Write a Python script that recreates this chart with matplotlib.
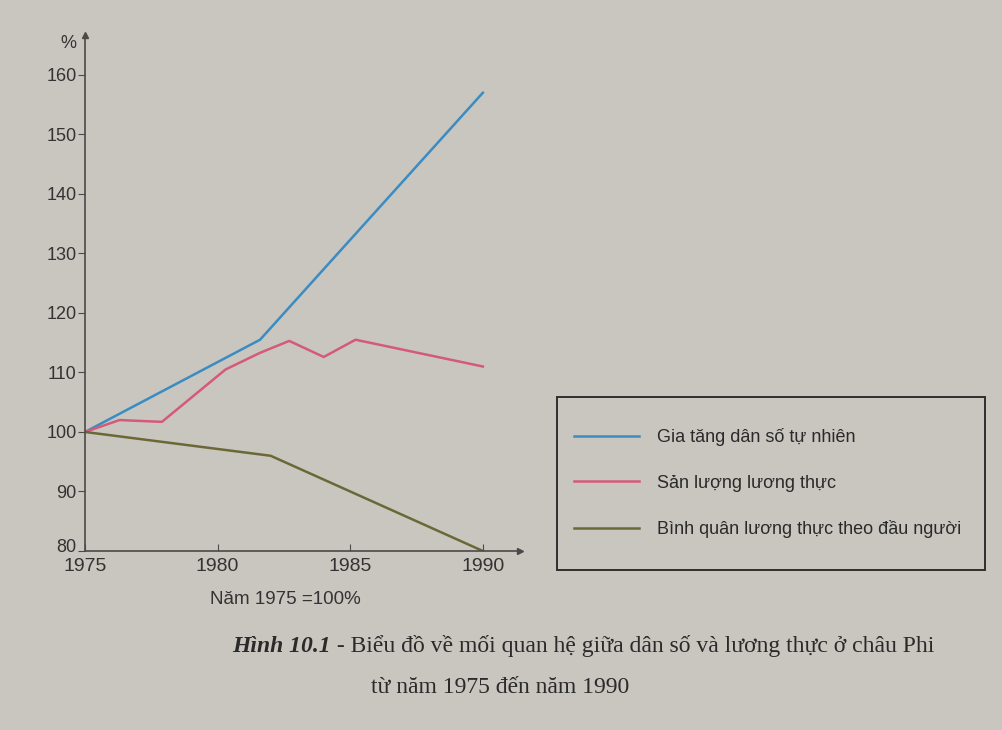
import matplotlib.pyplot as plt
import matplotlib.transforms as mtransforms
from matplotlib.patches import Rectangle

# Values (1975 = 100%)
pop_years = [1975, 1981.6, 1990]
pop_values = [100, 115.5, 157]

food_years = [1975, 1976.3, 1977.9, 1980.3, 1981.6, 1982.7, 1984.0, 1985.2, 1990]
food_values = [100, 102, 101.7, 110.5, 113.3, 115.3, 112.6, 115.5, 111]

percap_years = [1975, 1982, 1990]
percap_values = [100, 96, 80]

x_ticks = [1975, 1980, 1985, 1990]
y_ticks = [80, 90, 100, 110, 120, 130, 140, 150, 160]

labels = ['Gia tăng dân số tự nhiên', 'Sản lượng lương thực',
          'Bình quân lương thực theo đầu người']
colors = ['#3a8cc2', '#d45a7a', '#6b6838']

BG = '#c9c6c0'
INK = '#4a4a48'

W, H = 1003, 730
fig = plt.figure(figsize=(W / 100, H / 100), dpi=100, facecolor=BG)

def fx(px):
    return px / W

def fy(py):
    return 1 - py / H

ax = fig.add_axes([fx(85), fy(551), fx(520) - fx(85), fy(35) - fy(551)])
ax.set_facecolor(BG)

l1, = ax.plot(pop_years, pop_values, color=colors[0], lw=1.8)
l2, = ax.plot(food_years, food_values, color=colors[1], lw=1.8)
l3, = ax.plot(percap_years, percap_values, color=colors[2], lw=1.8)

ax.set_xlim(1975, 1991.4)
ax.set_ylim(80, 166.7)
ax.set_xticks(x_ticks)
ax.set_yticks(y_ticks)
for s in ['top', 'right']:
    ax.spines[s].set_visible(False)
for s in ['left', 'bottom']:
    ax.spines[s].set_color(INK)
    ax.spines[s].set_linewidth(1.2)
ax.tick_params(axis='y', direction='out', length=5, color=INK, labelcolor='#333333',
               labelsize=13, pad=1)
ax.tick_params(axis='x', direction='in', length=5, color=INK, labelcolor='#333333',
               labelsize=14, pad=5)
for t in ax.get_xticklabels() + ax.get_yticklabels():
    t.set_family('Liberation Sans')
# "80" sits on the corner, nudged up a little so it clears "1975"
lab80 = ax.get_yticklabels()[0]
lab80.set_transform(lab80.get_transform()
                    + mtransforms.ScaledTranslation(0, 4 / 72, fig.dpi_scale_trans))

# arrow heads at axis ends
ax.plot([0], [1], marker='^', ms=5, color=INK, transform=ax.transAxes, clip_on=False)
ax.plot([1], [0], marker='>', ms=5, color=INK, transform=ax.transAxes, clip_on=False)

fig.text(fx(68), fy(43), '%', fontsize=13, color='#333333', family='Liberation Sans',
         ha='center', va='center')
fig.text(fx(285), fy(599), 'Năm 1975 =100%', fontsize=13.5, color='#333333',
         family='Liberation Sans', ha='center', va='center')

# legend box
fig.patches.append(Rectangle((fx(557), fy(570)), fx(985) - fx(557), fy(397) - fy(570),
                             transform=fig.transFigure, fill=False, edgecolor='#2e2e2c',
                             lw=1.4))
fig.legend([l1, l2, l3], labels, loc='upper left',
           bbox_to_anchor=(fx(574), fy(428)), frameon=False, borderpad=0,
           borderaxespad=0, handlelength=3.6, handletextpad=1.0, labelspacing=1.58,
           prop={'family': 'Liberation Sans', 'size': 13}, labelcolor='#2a2a2a')

# caption
cap = fig.text(fx(232), fy(652), 'Hình 10.1', fontsize=17, family='Liberation Serif',
               style='italic', weight='bold', color='#2a2a2a', ha='left', va='baseline')
ax.annotate(' - Biểu đồ về mối quan hệ giữa dân số và lương thực ở châu Phi',
            xy=(1, 0), xycoords=cap, va='bottom', ha='left', fontsize=17,
            family='Liberation Serif', color='#2a2a2a', annotation_clip=False)
fig.text(fx(500), fy(693), 'từ năm 1975 đến năm 1990', fontsize=17,
         family='Liberation Serif', color='#2a2a2a', ha='center', va='baseline')

fig.savefig('out.png', dpi=100, facecolor=BG)
